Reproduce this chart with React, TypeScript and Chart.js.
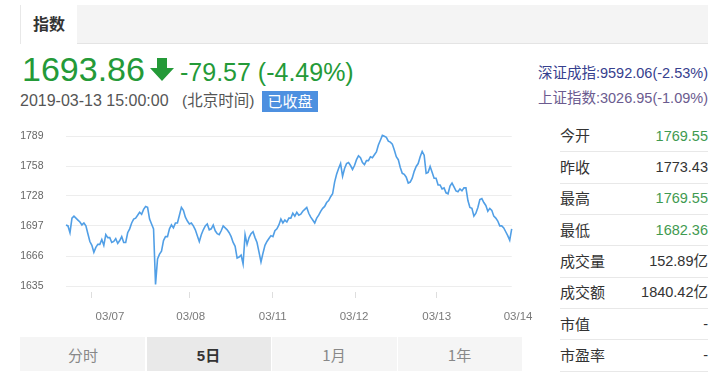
import React, { useEffect, useRef } from 'react';
import { Chart, registerables } from 'chart.js';

Chart.register(...registerables);

// ---- data (5-day intraday index, 45 samples per session) ----
const day0307 = [1698, 1697, 1690, 1705, 1707, 1705, 1703, 1701, 1698, 1700, 1697, 1689, 1681, 1677, 1670, 1675, 1678, 1678, 1683, 1677, 1688, 1685, 1685, 1680, 1681, 1684, 1679, 1682, 1686, 1680, 1680, 1690, 1694, 1700, 1704, 1705, 1708, 1711, 1709, 1714, 1717, 1716, 1704, 1699, 1694];
const day0308 = [1637, 1663, 1668, 1671, 1682, 1686, 1686, 1694, 1698, 1695, 1700, 1700, 1708, 1716, 1713, 1706, 1702, 1699, 1700, 1697, 1693, 1687, 1681, 1688, 1693, 1697, 1699, 1693, 1694, 1698, 1692, 1689, 1688, 1692, 1697, 1695, 1693, 1690, 1686, 1680, 1676, 1664, 1665, 1667, 1658];
const day0311 = [1688, 1678, 1685, 1689, 1691, 1685, 1680, 1670, 1660, 1669, 1677, 1681, 1684, 1687, 1686, 1692, 1694, 1698, 1704, 1700, 1703, 1701, 1705, 1705, 1710, 1707, 1711, 1708, 1709, 1712, 1714, 1716, 1710, 1706, 1703, 1700, 1705, 1708, 1712, 1715, 1717, 1721, 1723, 1727, 1730];
const day0312 = [1742, 1750, 1756, 1761, 1748, 1756, 1761, 1762, 1759, 1755, 1759, 1765, 1769, 1767, 1762, 1760, 1764, 1764, 1768, 1767, 1770, 1773, 1780, 1785, 1790, 1789, 1788, 1784, 1783, 1781, 1775, 1768, 1765, 1757, 1751, 1750, 1747, 1741, 1742, 1746, 1753, 1758, 1761, 1768, 1773.43];
const day0313 = [1769.55, 1751, 1752, 1758, 1752, 1746, 1746, 1739, 1739, 1735, 1736, 1731, 1730, 1738, 1741, 1737, 1733, 1732, 1735, 1733, 1736, 1736, 1723, 1716, 1715, 1707, 1710, 1716, 1724, 1725, 1721, 1718, 1712, 1715, 1713, 1707, 1705, 1702, 1697, 1697, 1695, 1691, 1687, 1682.36, 1693.86];

const xTickLabels = ['03/07', '03/08', '03/11', '03/12', '03/13', '03/14'];
const xLabelSlots = [22.1, 62.7, 103.9, 144.8, 186.3, 227.2];
const xTickMarkSlots = [12.9, 62.3, 104.0, 145.3, 186.3];
const yTicks = [1635, 1666, 1697, 1728, 1758, 1789];

const statsLabels = ['今开', '昨收', '最高', '最低', '成交量', '成交额', '市值', '市盈率'];
const statsValues = ['1769.55', '1773.43', '1769.55', '1682.36', '152.89亿', '1840.42亿', '-', '-'];
const statsGreen = [true, false, true, true, false, false, false, false];
const rangeTabs = ['分时', '5日', '1月', '1年'];

const LAT = '"Liberation Sans", Arial, "Noto Sans CJK SC", sans-serif';
const CJK = '"Noto Sans CJK SC", "Liberation Sans", sans-serif';
const GREEN = '#249a38';

type TProps = {
  x: number; cy: number; size: number; color?: string; weight?: any;
  align?: 'left' | 'right' | 'center'; family?: string; w?: number; children: any; spacing?: number;
};
function T({ x, cy, size, color = '#333', weight = 'normal', align = 'left', family = LAT, w = 300, children, spacing = 0 }: TProps) {
  const H = Math.round(size * 1.4);
  const top = cy - H / 2 - (family === CJK ? size * 0.05 : 0);
  const style: any = {
    position: 'absolute', top, height: H, lineHeight: `${H}px`, fontSize: size, color,
    fontWeight: weight, fontFamily: family, whiteSpace: 'nowrap', letterSpacing: spacing,
  };
  if (align === 'left') style.left = x;
  else if (align === 'right') { style.right = 721 - x; style.textAlign = 'right'; }
  else { style.left = x - w / 2; style.width = w; style.textAlign = 'center'; }
  return <div style={style}>{children}</div>;
}

function PriceChart() {
  const ref = useRef<HTMLCanvasElement>(null);
  useEffect(() => {
    const values = [...day0307, ...day0308, ...day0311, ...day0312, ...day0313];
    const points = values.map((v, i) => ({ x: i, y: v }));
    Chart.defaults.font.family = LAT;
    const chart = new Chart(ref.current as HTMLCanvasElement, {
      type: 'line',
      data: {
        datasets: [{
          data: points, borderColor: '#519fe6', borderWidth: 1.6, pointRadius: 0,
          tension: 0, fill: false, clip: false as any,
        }],
      },
      options: {
        animation: false, responsive: false, maintainAspectRatio: false, events: [],
        layout: { padding: { left: 0, right: 33.3, top: 16.3, bottom: 4.7 } },
        plugins: { legend: { display: false }, tooltip: { enabled: false } },
        scales: {
          x: {
            type: 'linear', min: 0, max: values.length - 1, position: 'bottom', weight: 0,
            grid: {
              drawOnChartArea: false, drawTicks: true, tickLength: 12, tickColor: '#dedede',
              tickBorderDash: [0, 6, 6, 0], tickWidth: 1,
            } as any,
            border: { display: false },
            ticks: { display: false },
            afterBuildTicks: (s: any) => { s.ticks = xTickMarkSlots.map((v) => ({ value: v })); },
            afterFit: (s: any) => { s.height = 12; },
          },
          xl: {
            type: 'linear', min: 0, max: values.length - 1, position: 'bottom', weight: 1,
            grid: { display: false, drawTicks: false },
            border: { display: false },
            ticks: {
              color: '#7a7a7a', font: { size: 11.5 }, padding: 11.5, maxRotation: 0, minRotation: 0,
              autoSkip: false, callback: (_v: any, i: number) => xTickLabels[i],
            },
            afterBuildTicks: (s: any) => { s.ticks = xLabelSlots.map((v) => ({ value: v })); },
            afterFit: (s: any) => { s.height = 27; },
          },
          y: {
            type: 'linear', min: 1635, max: 1789, position: 'left',
            grid: { color: '#ededed', drawTicks: true, tickLength: 22, tickColor: 'rgba(0,0,0,0)', lineWidth: 1 },
            border: { display: false },
            ticks: { color: '#666', font: { size: 10.5 }, padding: 0.5, callback: (v: any) => String(v) },
            afterBuildTicks: (s: any) => { s.ticks = yTicks.map((v) => ({ value: v })); },
            afterFit: (s: any) => { s.width = 66; },
          },
        },
      } as any,
    });
    return () => chart.destroy();
  }, []);
  return (
    <canvas ref={ref} width={545} height={210}
      style={{ position: 'absolute', left: 0, top: 120, width: 545, height: 210 }} />
  );
}

export default function App() {
  return (
    <div style={{ position: 'absolute', left: 0, top: 0, width: 721, height: 377, background: '#fff', overflow: 'hidden', fontFamily: LAT }}>
      {/* tab bar */}
      <div style={{ position: 'absolute', left: 20, top: 5, width: 688, height: 38, background: '#f4f4f4', borderBottom: '1px solid #e4e4e4' }} />
      <div style={{ position: 'absolute', left: 20, top: 5, width: 57, height: 39, background: '#fff', borderLeft: '1px solid #e8e8e8', boxSizing: 'border-box' }} />
      <T x={49} cy={24} size={16} weight="bold" align="center" w={57} family={CJK} color="#333">指数</T>

      {/* price */}
      <T x={22} cy={68.5} size={34} color={GREEN}>1693.86</T>
      <svg style={{ position: 'absolute', left: 150, top: 58 }} width={24} height={23} viewBox="0 0 24 23">
        <path d="M7 0 H17 V10 H24 L12 23 L0 10 H7 Z" fill={GREEN} />
      </svg>
      <T x={180} cy={72.5} size={25} color={GREEN}>-79.57 (-4.49%)</T>

      <T x={20} cy={101} size={16} color="#555">2019-03-13 15:00:00</T>
      <T x={182} cy={101} size={15.5} color="#555">(北京时间)</T>
      <div style={{ position: 'absolute', left: 262, top: 91, width: 56, height: 21, background: '#4d90e0' }} />
      <T x={290} cy={101.5} size={15} align="center" w={56} color="#fff" family={CJK}>已收盘</T>

      <T x={708} cy={73} size={14.5} align="right" color="#36408e">深证成指:9592.06(-2.53%)</T>
      <T x={708} cy={98} size={14.5} align="right" color="#6b5b8f">上证指数:3026.95(-1.09%)</T>

      {/* stats */}
      {statsLabels.map((lab, k) => {
        const cy = 135.7 + k * 31.35;
        return (
          <React.Fragment key={lab}>
            <T x={560} cy={cy} size={15} family={CJK} color="#333">{lab}</T>
            <T x={708} cy={cy} size={14.5} align="right" color={statsGreen[k] ? '#3f9a50' : '#333'}>{statsValues[k]}</T>
            <div style={{ position: 'absolute', left: 560, top: Math.round(cy + 15.5), width: 148, height: 1, background: '#e8e8e8' }} />
          </React.Fragment>
        );
      })}

      {/* range tabs */}
      {rangeTabs.map((r, k) => {
        const left = 20 + k * 125.5;
        const sel = k === 1;
        return (
          <React.Fragment key={r}>
            <div style={{ position: 'absolute', left: left + (k ? 1 : 0), top: 337, width: 124.5, height: 34, background: sel ? '#e9e9e9' : '#f5f5f5' }} />
            <T x={left + 63} cy={355} size={15} align="center" w={120} family={sel ? LAT : CJK} weight={sel ? 'bold' : 'normal'} color={sel ? '#333' : '#888'}>{r}</T>
          </React.Fragment>
        );
      })}

      <PriceChart />
    </div>
  );
}
